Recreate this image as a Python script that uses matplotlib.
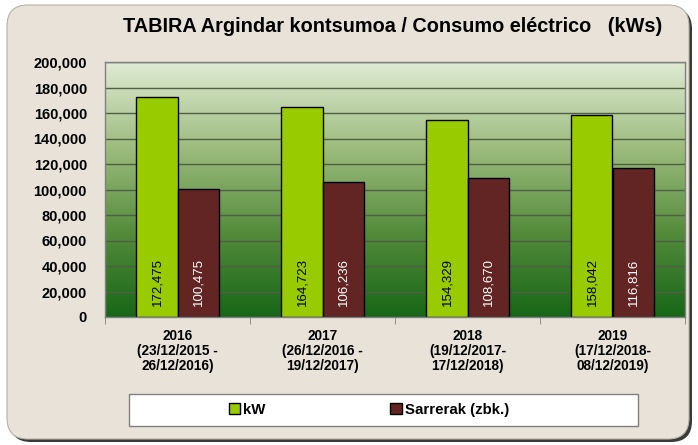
import matplotlib.pyplot as plt
import numpy as np
from matplotlib.patches import FancyBboxPatch, Rectangle
from matplotlib.colors import LinearSegmentedColormap

plt.rcParams['font.family'] = ['Liberation Sans', 'DejaVu Sans']

categories = ['2016\n(23/12/2015 -\n26/12/2016)',
              '2017\n(26/12/2016 -\n19/12/2017)',
              '2018\n(19/12/2017-\n17/12/2018)',
              '2019\n(17/12/2018-\n08/12/2019)']
kw = [172475, 164723, 154329, 158042]
sarrerak = [100475, 106236, 108670, 116816]
series_names = ['kW', 'Sarrerak (zbk.)']
yticks = [0, 20000, 40000, 60000, 80000, 100000, 120000, 140000, 160000, 180000, 200000]

green = '#99cc00'
maroon = '#632523'

W, H = 698, 445
fig = plt.figure(figsize=(W / 100, H / 100), dpi=100)
fig.patch.set_facecolor('white')

# chart area background with shadow
shadow = FancyBboxPatch((10 / W, 3 / H), 682 / W, 434 / H,
                        boxstyle='round,pad=0,rounding_size=0.03',
                        transform=fig.transFigure, facecolor='#3a3a3a',
                        edgecolor='none', zorder=0, mutation_aspect=W / H)
fig.add_artist(shadow)
bg = FancyBboxPatch((7 / W, 6 / H), 682 / W, 434 / H,
                    boxstyle='round,pad=0,rounding_size=0.03',
                    transform=fig.transFigure, facecolor='#e8e2d8',
                    edgecolor='#b8b0a4', linewidth=0.8, zorder=0,
                    mutation_aspect=W / H)
fig.add_artist(bg)

ax = fig.add_axes([105 / W, (H - 317) / H, 580 / W, 255 / H])
ax.set_xlim(-0.5, 3.5)
ax.set_ylim(0, 200000)

# plot area gradient
cmap = LinearSegmentedColormap.from_list('g', ['#176617', '#558c3c', '#9dbc7e', '#dfead4'])
grad = np.linspace(0, 1, 256).reshape(-1, 1)
ax.imshow(grad, cmap=cmap, aspect='auto', extent=[-0.5, 3.5, 0, 200000],
          origin='lower', zorder=0)

x = np.arange(len(categories))
bw = 0.283
ax.bar(x - bw / 2, kw, bw, color=green, edgecolor='black', linewidth=1, zorder=3,
       label=series_names[0])
ax.bar(x + bw / 2, sarrerak, bw, color=maroon, edgecolor='black', linewidth=1, zorder=3,
       label=series_names[1])

for i in range(len(categories)):
    ax.annotate(f'{kw[i]:,}', (x[i] - bw / 2, 0), xytext=(0, 8), textcoords='offset points',
                rotation=90, ha='center', va='bottom', fontsize=9.5, color='black',
                zorder=4)
    ax.annotate(f'{sarrerak[i]:,}', (x[i] + bw / 2, 0), xytext=(0, 8), textcoords='offset points',
                rotation=90, ha='center', va='bottom', fontsize=9.5, color='white',
                zorder=4)

ax.set_yticks(yticks)
ax.set_yticklabels([f'{v:,}' for v in yticks], fontsize=10.5, fontweight='bold')
ax.yaxis.grid(True, color='#4f5f44', linewidth=1)
ax.set_axisbelow(False)
for gl in ax.get_ygridlines():
    gl.set_zorder(1)
ax.tick_params(axis='y', length=0, pad=13)

ax.set_xticks(x)
ax.set_xticklabels(categories, fontsize=9.8, fontweight='bold', linespacing=1.05)
ax.set_xticks(np.arange(-0.5, 4, 1), minor=True)
ax.tick_params(axis='x', which='major', length=0, pad=9)
ax.tick_params(axis='x', which='minor', length=5, color='#808080')

for s in ax.spines.values():
    s.set_color('#808080')
    s.set_linewidth(1)
    s.set_zorder(5)

fig.text(393 / W, (H - 27) / H, 'TABIRA Argindar kontsumoa / Consumo eléctrico   (kWs)',
         ha='center', va='center', fontsize=14.3, fontweight='bold')

# legend box
fig.add_artist(Rectangle((129 / W, (H - 426) / H), 509 / W, 32 / H,
                         transform=fig.transFigure, facecolor='white',
                         edgecolor='#808080', linewidth=1, zorder=1))
handles, labels = ax.get_legend_handles_labels()
leg = fig.legend(handles, labels, loc='center', bbox_to_anchor=(369 / W, (H - 410) / H),
                 ncol=2, frameon=False, prop={'weight': 'bold', 'size': 10.8},
                 handlelength=0.75, handleheight=0.75, handletextpad=0.2,
                 columnspacing=8.3)
leg.set_zorder(2)

fig.savefig('out.png', dpi=100)
